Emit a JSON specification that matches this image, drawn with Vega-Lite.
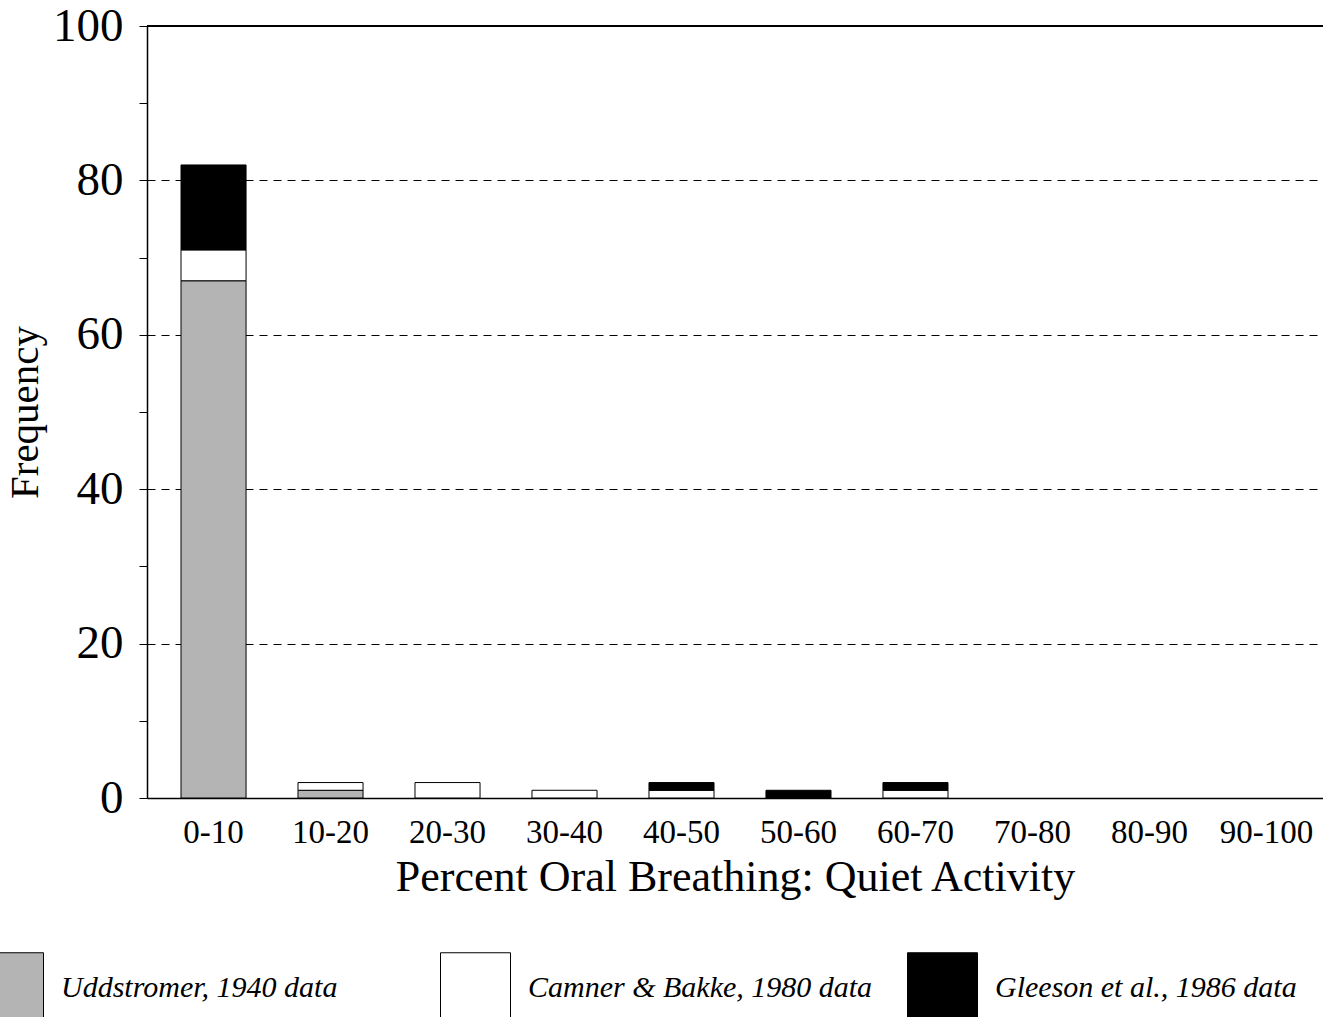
{
  "$schema": "https://vega.github.io/schema/vega-lite/v6.json",
  "width": 1176,
  "height": 772,
  "autosize": {"type": "none"},
  "padding": {"left": 147, "top": 26, "right": 0, "bottom": 219},
  "background": "white",
  "config": {"view": {"stroke": null}, "font": "Liberation Serif"},
  "data": {
    "values": [
      {"range": "0-10", "source": "Uddstromer, 1940 data", "frequency": 67, "order": 1},
      {"range": "0-10", "source": "Camner & Bakke, 1980 data", "frequency": 4, "order": 2},
      {"range": "0-10", "source": "Gleeson et al., 1986 data", "frequency": 11, "order": 3},
      {"range": "10-20", "source": "Uddstromer, 1940 data", "frequency": 1, "order": 1},
      {"range": "10-20", "source": "Camner & Bakke, 1980 data", "frequency": 1, "order": 2},
      {"range": "20-30", "source": "Camner & Bakke, 1980 data", "frequency": 2, "order": 2},
      {"range": "30-40", "source": "Camner & Bakke, 1980 data", "frequency": 1, "order": 2},
      {"range": "40-50", "source": "Camner & Bakke, 1980 data", "frequency": 1, "order": 2},
      {"range": "40-50", "source": "Gleeson et al., 1986 data", "frequency": 1, "order": 3},
      {"range": "50-60", "source": "Gleeson et al., 1986 data", "frequency": 1, "order": 3},
      {"range": "60-70", "source": "Camner & Bakke, 1980 data", "frequency": 1, "order": 2},
      {"range": "60-70", "source": "Gleeson et al., 1986 data", "frequency": 1, "order": 3}
    ]
  },
  "layer": [
    {
      "mark": {"type": "bar", "stroke": "black", "strokeWidth": 1},
      "encoding": {
        "x": {
          "field": "range",
          "type": "nominal",
          "scale": {
            "domain": ["0-10", "10-20", "20-30", "30-40", "40-50", "50-60", "60-70", "70-80", "80-90", "90-100"],
            "paddingInner": 0.444,
            "paddingOuter": 0.248,
            "align": 0.586
          },
          "axis": {
            "title": "Percent Oral Breathing: Quiet Activity",
            "labelAngle": 0,
            "ticks": false,
            "domainColor": "black",
            "domainWidth": 1.5,
            "labelFont": "Liberation Serif",
            "labelFontSize": 33,
            "labelColor": "black",
            "labelPadding": 18,
            "titleFont": "Liberation Serif",
            "titleFontSize": 44,
            "titleFontWeight": "normal",
            "titleColor": "black",
            "titlePadding": 6
          }
        },
        "y": {
          "field": "frequency",
          "type": "quantitative",
          "stack": "zero",
          "scale": {"domain": [0, 100], "nice": false},
          "axis": {
            "title": "Frequency",
            "values": [0, 10, 20, 30, 40, 50, 60, 70, 80, 90, 100],
            "labelExpr": "datum.value % 20 == 0 ? datum.label : ''",
            "tickSize": 8,
            "tickColor": "black",
            "domainColor": "black",
            "domainWidth": 1.5,
            "labelFont": "Liberation Serif",
            "labelFontSize": 47,
            "labelColor": "black",
            "labelPadding": 16,
            "titleFont": "Liberation Serif",
            "titleFontSize": 41,
            "titleFontWeight": "normal",
            "titleColor": "black",
            "titlePadding": 6,
            "grid": true,
            "gridDash": [8, 6],
            "gridColor": "black",
            "gridWidth": 1,
            "gridOpacity": {
              "condition": {"test": "datum.value % 20 != 0 || datum.value == 0 || datum.value == 100", "value": 0},
              "value": 1
            }
          }
        },
        "color": {
          "field": "source",
          "type": "nominal",
          "scale": {
            "domain": ["Uddstromer, 1940 data", "Camner & Bakke, 1980 data", "Gleeson et al., 1986 data"],
            "range": ["#b4b4b4", "white", "black"]
          },
          "legend": {
            "orient": "none",
            "legendX": -174,
            "legendY": 926,
            "direction": "horizontal",
            "columns": 3,
            "gridAlign": "all",
            "columnPadding": 32,
            "symbolType": "square",
            "symbolSize": 4900,
            "symbolStrokeColor": "black",
            "symbolStrokeWidth": 1,
            "symbolOpacity": 1,
            "labelFont": "Liberation Serif",
            "labelFontStyle": "italic",
            "labelFontSize": 30,
            "labelOffset": 17,
            "labelColor": "black",
            "labelLimit": 0,
            "title": null
          }
        },
        "order": {"field": "order", "type": "quantitative"}
      }
    },
    {
      "mark": {"type": "rule", "color": "black", "strokeWidth": 1.5},
      "encoding": {"y": {"datum": 100}}
    }
  ]
}
